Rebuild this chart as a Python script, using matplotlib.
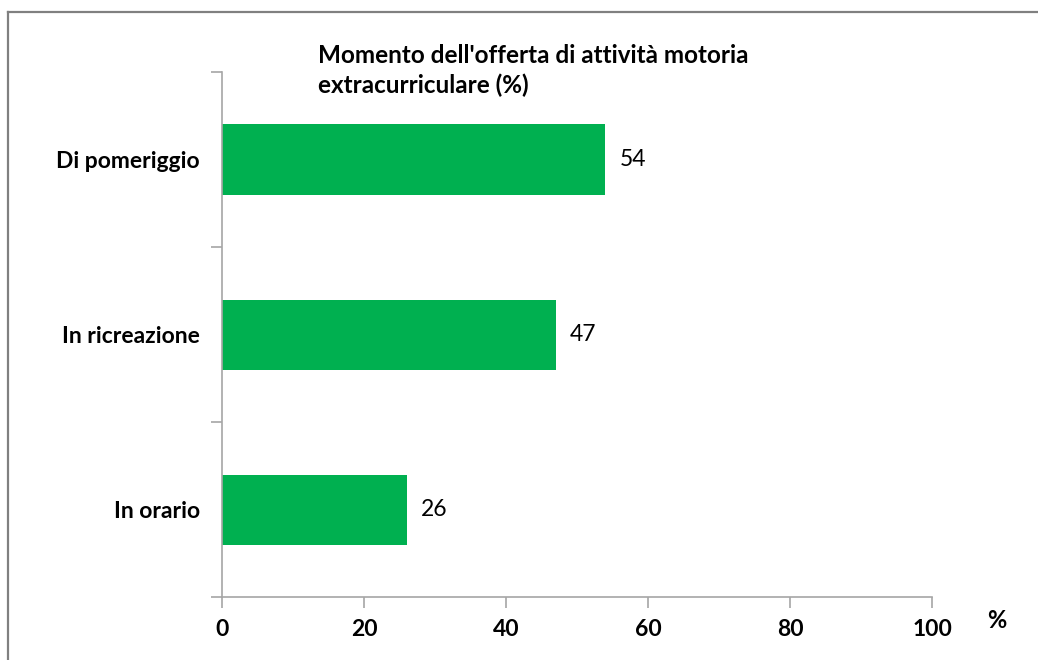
import matplotlib.pyplot as plt
from matplotlib.lines import Line2D

categories = ["In orario", "In ricreazione", "Di pomeriggio"]
values = [26, 47, 54]
xticks = [0, 20, 40, 60, 80, 100]
title = "Momento dell'offerta di attività motoria\nextracurriculare (%)"

plt.rcParams['font.family'] = ['Lato', 'DejaVu Sans']
green = "#00b050"
grey = "#a6a6a6"
fs = 16.5

fig = plt.figure(figsize=(10.38, 6.6), dpi=100)
ax = fig.add_axes([222/1038, 1 - 597/660, 710/1038, 525/660])

ax.barh(range(len(categories)), values, height=0.4, color=green)
for i, v in enumerate(values):
    ax.text(v + 2, i, str(v), va="center", ha="left", fontsize=fs)

ax.set_xlim(0, 100)
ax.set_ylim(-0.5, len(categories) - 0.5)
ax.set_xticks(xticks)
ax.set_xticklabels([str(t) for t in xticks], fontsize=fs, fontweight="bold")
ax.set_yticks([-0.5, 0.5, 1.5, 2.5])
ax.set_yticklabels([])
ax.set_yticks(range(len(categories)), minor=True)
ax.set_yticklabels(categories, minor=True, fontsize=fs, fontweight="bold")
ax.tick_params(axis="y", which="minor", length=0, pad=16)
ax.tick_params(axis="y", which="major", length=8, color=grey, width=1.2)
ax.tick_params(axis="x", length=8, color=grey, width=1.2, pad=8)

for s in ["top", "right"]:
    ax.spines[s].set_visible(False)
for s in ["left", "bottom"]:
    ax.spines[s].set_color(grey)
    ax.spines[s].set_linewidth(1.2)

fig.text(318/1038, 1 - 44/660, title, ha="left", va="top", fontsize=17.5,
         fontweight="bold", linespacing=1.35)
fig.text(997/1038, 1 - 620/660, "%", ha="center", va="center", fontsize=17,
         fontweight="bold")

# outer frame (left and top edges visible)
fig.add_artist(Line2D([8/1038, 8/1038], [0, 1 - 12/660], color="#808080",
                      lw=1.6, transform=fig.transFigure))
fig.add_artist(Line2D([8/1038, 1], [1 - 12/660, 1 - 12/660], color="#808080",
                      lw=1.6, transform=fig.transFigure))

fig.savefig("out.png", dpi=100)
